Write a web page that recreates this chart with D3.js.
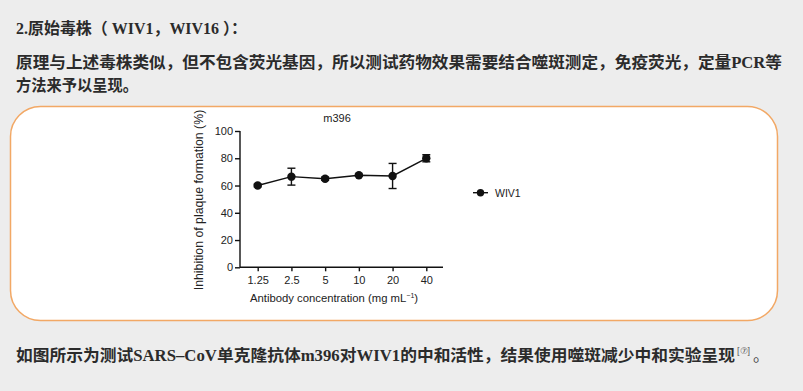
<!DOCTYPE html>
<html><head><meta charset="utf-8">
<script src="https://cdn.jsdelivr.net/npm/d3@7"></script>
<style>
html,body{margin:0;padding:0;background:#ededed;}
svg{display:block;}
</style></head>
<body>
<svg id="c" width="803" height="391"></svg>
<script>
const categories = ["1.25", "2.5", "5", "10", "20", "40"];
const means = [60, 66.5, 65, 67.5, 67, 80];
const errors = [1, 6.2, 1.2, 0.8, 9.2, 2.6];
const yTicks = [0, 20, 40, 60, 80, 100];
const seriesName = "WIV1";
const chartTitle = "m396";

const svg = d3.select("#c");
const cn = "'Liberation Serif','Noto Sans CJK SC',serif";
const txt = "#2b2b2b";

// header texts
svg.append("text").attr("x",16).attr("y",34).attr("font-family",cn).attr("font-weight","bold")
  .attr("font-size",16).attr("fill",txt).attr("textLength",231).attr("lengthAdjust","spacingAndGlyphs")
  .text("2.原始毒株（ WIV1，WIV16 ）：");
svg.append("text").attr("x",16).attr("y",68).attr("font-family",cn).attr("font-weight","bold")
  .attr("font-size",16).attr("fill",txt).attr("textLength",766).attr("lengthAdjust","spacingAndGlyphs")
  .text("原理与上述毒株类似，但不包含荧光基因，所以测试药物效果需要结合噬斑测定，免疫荧光，定量PCR等");
svg.append("text").attr("x",16).attr("y",91).attr("font-family",cn).attr("font-weight","bold")
  .attr("font-size",16).attr("fill",txt).attr("textLength",122).attr("lengthAdjust","spacingAndGlyphs")
  .text("方法来予以呈现。");

// box
svg.append("rect").attr("x",10.5).attr("y",106.5).attr("width",767).attr("height",214)
  .attr("rx",30).attr("ry",30).attr("fill","#fff").attr("stroke","#f2a865").attr("stroke-width",1.5);

// bottom text
const bt = svg.append("text").attr("x",16).attr("y",361).attr("font-family",cn).attr("font-weight","bold")
  .attr("font-size",16).attr("fill",txt);
bt.append("tspan").attr("textLength",719).attr("lengthAdjust","spacingAndGlyphs")
  .text("如图所示为测试SARS–CoV单克隆抗体m396对WIV1的中和活性，结果使用噬斑减少中和实验呈现");
svg.append("text").attr("x",737).attr("y",354).attr("font-family","'Liberation Sans',sans-serif")
  .attr("font-size",9).attr("fill","#555").text("[⑦]");
svg.append("text").attr("x",753).attr("y",361).attr("font-family","'Noto Sans CJK SC',sans-serif")
  .attr("font-size",16).attr("fill","#444").text("。");

// chart
const af = "'Liberation Sans',Arial,sans-serif";
const x = d3.scalePoint().domain(categories).range([257.7, 426.3]);
const y = d3.scaleLinear().domain([0,100]).range([267.3, 131]);
const g = svg.append("g");

const yAxis = g.append("g").attr("transform","translate(240,0)")
  .call(d3.axisLeft(y).tickValues(yTicks).tickSize(5).tickPadding(2));
const xAxis = g.append("g").attr("transform","translate(0,267.3)")
  .call(d3.axisBottom(x).tickSize(4).tickPadding(5));
xAxis.select(".domain").attr("d","M240,0H443");
[yAxis,xAxis].forEach(a=>{
  a.selectAll("path,line").attr("stroke","#111").attr("stroke-width",1.4);
  a.selectAll("text").attr("font-family",af).attr("font-size",11).attr("fill","#222");
});
yAxis.select(".domain").attr("d","M0,131V267.3");

const data = categories.map((c,i)=>({c, m:means[i], e:errors[i]}));
const line = d3.line().x(d=>x(d.c)).y(d=>y(d.m));
g.append("path").datum(data).attr("d",line).attr("fill","none").attr("stroke","#111").attr("stroke-width",1.4);
const eb = g.selectAll(".eb").data(data).enter().append("g");
eb.append("line").attr("x1",d=>x(d.c)).attr("x2",d=>x(d.c)).attr("y1",d=>y(d.m-d.e)).attr("y2",d=>y(d.m+d.e)).attr("stroke","#111").attr("stroke-width",1.4);
eb.append("line").attr("x1",d=>x(d.c)-4).attr("x2",d=>x(d.c)+4).attr("y1",d=>y(d.m-d.e)).attr("y2",d=>y(d.m-d.e)).attr("stroke","#111").attr("stroke-width",1.4);
eb.append("line").attr("x1",d=>x(d.c)-4).attr("x2",d=>x(d.c)+4).attr("y1",d=>y(d.m+d.e)).attr("y2",d=>y(d.m+d.e)).attr("stroke","#111").attr("stroke-width",1.4);
g.selectAll(".pt").data(data).enter().append("circle").attr("cx",d=>x(d.c)).attr("cy",d=>y(d.m)).attr("r",4.2).attr("fill","#111");

g.append("text").attr("x",337).attr("y",122).attr("text-anchor","middle").attr("font-family",af).attr("font-size",11).attr("fill","#222").text(chartTitle);
g.append("text").attr("transform","translate(203,200) rotate(-90)").attr("text-anchor","middle").attr("font-family",af).attr("font-size",12.3).attr("fill","#222").text("Inhibition of plaque formation (%)");
const xl = g.append("text").attr("x",334).attr("y",302).attr("text-anchor","middle").attr("font-family",af).attr("font-size",11.3).attr("fill","#222");
xl.append("tspan").text("Antibody concentration (mg mL");
xl.append("tspan").attr("font-size",7).attr("dy",-4).text("−1");
xl.append("tspan").attr("dy",4).text(")");

// legend
const lg = g.append("g");
lg.append("line").attr("x1",473).attr("x2",488).attr("y1",192.7).attr("y2",192.7).attr("stroke","#111").attr("stroke-width",1.4);
lg.append("circle").attr("cx",480.5).attr("cy",192.7).attr("r",3.7).attr("fill","#111");
lg.append("text").attr("x",495).attr("y",196.5).attr("font-family",af).attr("font-size",10.5).attr("fill","#222").text(seriesName);
</script>
</body></html>
